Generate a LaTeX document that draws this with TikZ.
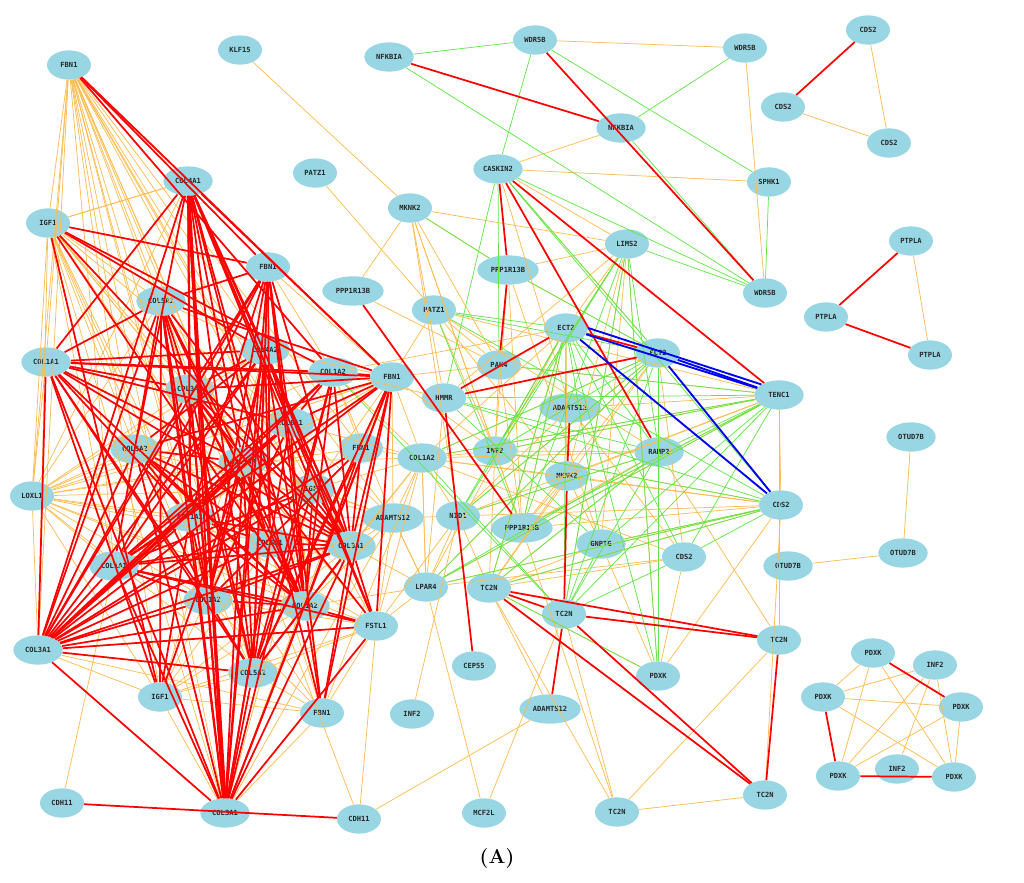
\documentclass[tikz,border=0pt]{standalone}
\usepackage{fontspec}
\newfontfamily\genefam{DejaVu Sans Mono}
\usetikzlibrary{shapes.geometric}
\definecolor{nodeblue}{RGB}{152,214,228}
\definecolor{eorange}{RGB}{255,188,80}
\definecolor{egreen}{RGB}{95,232,70}
\definecolor{ered}{RGB}{255,0,0}
\definecolor{eblue}{RGB}{0,0,240}
\pgfdeclarelayer{edges}
\pgfsetlayers{main,edges}
\tikzset{
  gene/.style={ellipse, fill=nodeblue, draw=none, minimum width=33pt, minimum height=22pt, inner sep=0pt,
    font=\genefam\bfseries\fontsize{5.3}{6}\selectfont, text=black!85},
  genem/.style={gene, minimum width=37pt},
  genew/.style={gene, minimum width=46pt},
  re/.style={draw=ered, line width=1.3pt},
  rb/.style={draw=ered, line width=2.2pt},
  oe/.style={draw=eorange, line width=0.55pt},
  ge/.style={draw=egreen, line width=0.55pt},
  be/.style={draw=eblue, line width=1.4pt},
}
\begin{document}
\begin{tikzpicture}[x=0.75pt,y=-0.75pt]
\useasboundingbox (0,0) rectangle (1024,882);
% ---------- left cluster ----------
\node[gene]  (fbnA)    at (69,65)   {FBN1};
\node[gene]  (klf)     at (240,50)  {KLF15};
\node[genem] (col4a1)  at (188,181) {COL4A1};
\node[gene]  (patzA)   at (315,173) {PATZ1};
\node[gene]  (igfA)    at (48,223)  {IGF1};
\node[gene]  (fbnB)    at (268,267) {FBN1};
\node[genem] (col5a1A) at (161,301) {COL5A1};
\node[genew] (pppA)    at (353,291) {PPP1R13B};
\node[genem] (col1a1A) at (46,362)  {COL1A1};
\node[genem] (col4a2)  at (265,350) {COL4A2};
\node[genem] (col1a2A) at (333,372) {COL1A2};
\node[gene]  (fbnC)    at (392,377) {FBN1};
\node[genem] (col3a1A) at (190,389) {COL3A1};
\node[genem] (col6a1)  at (290,423) {COL6A1};
\node[genem] (col5a2)  at (135,449) {COL5A2};
\node[genem] (col5a3)  at (243,462) {COL5A3};
\node[gene]  (fbnD)    at (361,448) {FBN1};
\node[gene]  (igfB)    at (313,489) {IGF1};
\node[gene]  (loxl)    at (32,496)  {LOXL1};
\node[genem] (col1a1B) at (190,517) {COL1A1};
\node[genew] (adamA)   at (393,518) {ADAMTS12};
\node[genem] (col5a1B) at (270,543) {COL5A1};
\node[genem] (col3a1B) at (351,546) {COL3A1};
\node[genem] (col1a2B) at (114,566) {COL1A1};
\node[genem] (col1a2C) at (208,600) {COL1A2};
\node[genem] (col1a2D) at (305,606) {COL1A2};
\node[gene]  (fstl)    at (376,626) {FSTL1};
\node[genem] (col3a1C) at (38,650)  {COL3A1};
\node[genem] (col5a1C) at (253,673) {COL5A1};
\node[gene]  (igfC)    at (160,697) {IGF1};
\node[gene]  (fbnE)    at (322,713) {FBN1};
\node[genem] (col3a1D) at (225,813) {COL3A1};
\node[gene]  (cdhA)    at (62,803)  {CDH11};
\node[gene]  (cdhB)    at (359,819) {CDH11};
\node[gene]  (infA)    at (412,714) {INF2};
% ---------- middle ----------
\node[genem] (nfkA)    at (389,57)  {NFKBIA};
\node[gene]  (wdrA)    at (535,40)  {WDR5B};
\node[gene]  (wdrB)    at (745,48)  {WDR5B};
\node[genem] (nfkB)    at (621,128) {NFKBIA};
\node[genem] (caskin)  at (498,169) {CASKIN2};
\node[gene]  (sphk)    at (769,182) {SPHK1};
\node[gene]  (mknkA)   at (410,208) {MKNK2};
\node[gene]  (lims)    at (627,244) {LIMS2};
\node[genew] (pppB)    at (508,270) {PPP1R13B};
\node[gene]  (wdrC)    at (765,293) {WDR5B};
\node[gene]  (patzB)   at (434,310) {PATZ1};
\node[gene]  (ectA)    at (566,328) {ECT2};
\node[gene]  (ectB)    at (658,353) {ECT2};
\node[gene]  (pak)     at (499,365) {PAK4};
\node[gene]  (hmmr)    at (444,398) {HMMR};
\node[genew] (adamB)   at (570,408) {ADAMTS12};
\node[genem] (tenc)    at (779,395) {TENC1};
\node[gene]  (infB)    at (495,451) {INF2};
\node[gene]  (mknkB)   at (567,476) {MKNK2};
\node[genem] (ramp)    at (659,452) {RAMP2};
\node[genem] (col1a2E) at (422,458) {COL1A2};
\node[gene]  (cdsA)    at (781,505) {CDS2};
\node[gene]  (nid)     at (458,516) {NID1};
\node[genew] (pppC)    at (522,528) {PPP1R13B};
\node[genem] (gnptg)   at (601,544) {GNPTG};
\node[gene]  (cdsB)    at (684,557) {CDS2};
\node[gene]  (lpar)    at (426,587) {LPAR4};
\node[gene]  (tcA)     at (489,588) {TC2N};
\node[gene]  (tcB)     at (564,614) {TC2N};
\node[gene]  (tcC)     at (779,640) {TC2N};
\node[gene]  (cep)     at (474,666) {CEP55};
\node[gene]  (pdxA)    at (658,676) {PDXK};
\node[genew] (adamC)   at (550,709) {ADAMTS12};
\node[gene]  (mcf)     at (484,813) {MCF2L};
\node[gene]  (tcD)     at (617,812) {TC2N};
\node[gene]  (tcE)     at (765,795) {TC2N};
\node[genem] (otA)     at (911,437) {OTUD7B};
\node[genem] (otB)     at (903,553) {OTUD7B};
\node[genem] (otC)     at (788,566) {OTUD7B};
% ---------- right clusters ----------
\node[gene]  (cdsC)    at (868,30)  {CDS2};
\node[gene]  (cdsD)    at (783,107) {CDS2};
\node[gene]  (cdsE)    at (889,143) {CDS2};
\node[gene]  (ptA)     at (911,241) {PTPLA};
\node[gene]  (ptB)     at (826,317) {PTPLA};
\node[gene]  (ptC)     at (930,355) {PTPLA};
\node[gene]  (pdB)     at (873,653) {PDXK};
\node[gene]  (infD)    at (935,665) {INF2};
\node[gene]  (pdC)     at (823,697) {PDXK};
\node[gene]  (pdD)     at (961,707) {PDXK};
\node[gene]  (pdE)     at (838,776) {PDXK};
\node[gene]  (infE)    at (897,769) {INF2};
\node[gene]  (pdF)     at (954,777) {PDXK};
\node[font=\bfseries\fontsize{15}{18}\selectfont] (cap) at (497,858) {(A)};

\begin{pgfonlayer}{edges}
% orange, left cluster
\foreach \b in {igfA,col5a1A,col1a1A,col3a1A,col5a2,col5a3,col1a1B,col1a2B,col1a2C,col5a1C,igfC,col3a1D,loxl,col3a1C,col1a2D,col5a1B,col6a1,col4a2,col3a1B,fstl,fbnD,igfB,col4a1,col1a2A}
  {\draw[oe] (fbnA) -- (\b);}
\foreach \b in {col4a1,col5a1A,col3a1A,col5a2,col5a3,col1a1B,col1a2B,col1a2C,col5a1C,igfC,loxl,col3a1C,col1a2D,col5a1B,col6a1,col4a2,col3a1B,fstl,col3a1D,fbnB}
  {\draw[oe] (igfA) -- (\b);}
\foreach \b in {col1a1A,col5a1A,col3a1A,col5a2,col5a3,col1a1B,col1a2B,col1a2C,col5a1B,col3a1B,col4a2,col6a1,igfB,fstl,col1a2D,col3a1C,col5a1C,fbnC,col1a2A,igfC,fbnD,col4a1}
  {\draw[oe] (loxl) -- (\b);}
\foreach \b in {igfC,col5a1C,fbnE,col1a2D,fstl,igfB,fbnD,col1a2C}
  {\draw[oe] (col3a1C) -- (\b);}
\foreach \b in {fbnE,igfB,fstl,fbnD,adamA,col5a2,col1a2B,col1a2D,igfC}
  {\draw[oe] (col3a1D) -- (\b);}
\foreach \b in {col5a3,col6a1,col1a2D,col5a1B,col3a1B,igfB,fbnC,col1a2A,col1a2E,lpar,fstl,col1a1B,col4a2,col1a2C,col5a2}
  {\draw[oe] (adamA) -- (\b);}
\foreach \b in {col3a1B,fstl,igfB,fbnD,lpar,col1a2D,fbnC,col1a2A,fbnE,col5a3,col6a1}
  {\draw[oe] (col1a2E) -- (\b);}
\foreach \b in {lpar,col5a1C,igfC,fbnE,cdhB,col1a2C,col5a3,col1a1B}
  {\draw[oe] (fstl) -- (\b);}
\foreach \b in {col5a1C,igfC,col1a2C,col1a1B,col5a3,col6a1}
  {\draw[oe] (fbnE) -- (\b);}
\foreach \b in {col5a1C,col1a2D,col5a1B,col3a1B,col6a1,col4a2}
  {\draw[oe] (igfC) -- (\b);}
\foreach \b in {col4a1,col5a1A,col1a1A,col3a1A,col5a2,col5a3,fbnD,igfB,col1a1B}
  {\draw[oe] (fbnC) -- (\b);}
\foreach \a/\b in {cdhA/col1a2B,cdhB/col5a1A,klf/mknkA,patzA/patzB,fbnC/patzB,fbnC/pak,col1a2A/hmmr,
  fbnC/infB,col1a2A/ectA,fbnB/col1a2A,col4a1/igfA,col4a2/fbnC,fbnB/fbnC,col1a2D/lpar,fstl/nid,col3a1B/lpar,infA/nid,
  adamC/cdhB,lpar/mcf,mcf/tcB,fbnD/col1a2A,col5a1A/col4a2}
  {\draw[oe] (\a) -- (\b);}
% orange, middle
\foreach \a/\b in {wdrA/wdrB,wdrB/wdrC,caskin/nfkB,caskin/sphk,caskin/lims,caskin/pppB,caskin/ectB,caskin/adamB,
  mknkA/pppA,mknkA/pppB,mknkA/lims,mknkA/pak,mknkA/infB,mknkA/nid,mknkA/pppC,mknkA/hmmr,
  pppA/pak,lims/pppB,lims/hmmr,lims/ectA,lims/infB,lims/mknkB,lims/gnptg,lims/tcB,lims/pdxA,
  pppB/pppC,pppB/infB,pppB/ectB,pppB/gnptg,patzB/pak,patzB/ramp,patzB/tenc,patzB/mknkB,patzB/infB,
  ectA/pppC,ectA/infB,ectA/lpar,ectA/tcA,ectA/mknkB,ectA/col1a2E,
  ectB/col1a2E,ectB/nid,ectB/lpar,ectB/tcA,ectB/cdsB,ectB/pppC,
  tenc/col1a2E,tenc/nid,tenc/pppC,tenc/cdsA,tenc/infB,tenc/pak,tenc/tcC,tenc/mknkB,tenc/adamB,tenc/lpar,
  ramp/col1a2E,ramp/pppC,ramp/tcA,ramp/pdxA,ramp/tcC,ramp/nid,ramp/infB,
  tcA/tcD,tcB/tcD,tcC/tcD,tcD/tcE,
  cdsA/col1a2E,cdsA/nid,cdsA/pppC,cdsA/lpar,cdsA/tcA,cdsA/infB,cdsA/gnptg,cdsA/mknkB,cdsA/pdxA,cdsA/tcE,
  nid/col1a2E,nid/lpar,nid/adamA,nid/tcA,lpar/col1a2E,lpar/adamA,infB/col1a2E,infB/tcA,infB/pppC,
  mknkB/col1a2E,mknkB/pppC,mknkB/gnptg,mknkB/tcA,gnptg/pdxA,gnptg/tcA,pdxA/tcA,pdxA/cdsB,
  cdsB/col1a2E,cdsB/tcA,cdsB/lpar,pak/pppC,pak/infB,hmmr/lpar,adamB/nid,adamB/cdsB,tcA/adamC,pppC/tcD}
  {\draw[oe] (\a) -- (\b);}
% orange, right
\foreach \a/\b in {cdsC/cdsE,cdsD/cdsE,ptA/ptC,otA/otB,otB/otC,
  pdB/pdC,pdB/pdE,pdB/pdF,infD/pdC,infD/pdE,infD/pdF,infD/infE,pdC/pdD,pdC/pdF,pdD/pdE,pdD/pdF}
  {\draw[oe] (\a) -- (\b);}
% green
\foreach \a/\b in {nfkA/wdrA,nfkA/wdrC,wdrA/caskin,wdrA/sphk,wdrB/nfkB,sphk/wdrC,nfkB/wdrC,
  caskin/wdrC,caskin/pak,caskin/ectB,caskin/hmmr,caskin/cdsA,mknkA/pppB,pppB/ectB,
  lims/wdrC,lims/pppC,lims/infB,lims/pdxA,lims/tcB,lims/ramp,lims/nid,
  patzB/ectA,patzB/ectB,patzB/pppC,hmmr/tenc,hmmr/ramp,hmmr/cdsA,hmmr/gnptg,
  ectA/infB,ectA/nid,ectA/pppC,ectA/tcB,ectA/pdxA,ectA/gnptg,ectA/ramp,ectA/cdsB,ectA/tcA,
  ectB/pdxA,ectB/tcB,ectB/lpar,ectB/nid,ectB/infB,ectB/col1a2E,
  tenc/pak,tenc/infB,tenc/tcB,tenc/gnptg,tenc/pppC,tenc/cdsB,tenc/col1a2E,tenc/lpar,tenc/ramp,
  cdsA/patzB,cdsA/tcA,cdsA/lpar,cdsA/gnptg,cdsA/cdsB,cdsA/infB,
  ramp/lpar,ramp/tcB,ramp/tcA,ramp/nid,tcA/pdxA,col1a2E/tcB,col1a2A/tcB,gnptg/tcB,cdsB/tcB}
  {\draw[ge] (\a) -- (\b);}
% red, left cluster
\foreach \a/\b in {fbnA/fbnB,fbnA/fbnC,fbnA/col1a2A,
  igfA/fbnB,igfA/col4a2,igfA/col1a2A,igfA/col3a1B,igfA/igfC,igfA/col1a2D,
  col4a1/col1a1A,col4a1/col5a2,col4a1/col3a1A,col4a1/col6a1,col4a1/col5a3,col4a1/col1a1B,col4a1/col1a2C,col4a1/col5a1C,
  col4a1/col1a2D,col4a1/fstl,col4a1/col3a1B,col4a1/igfB,col4a1/fbnE,col4a1/col3a1C,col4a1/col4a2,col4a1/fbnC,
  col5a1A/col1a1A,col5a1A/col3a1A,col5a1A/col5a3,col5a1A/col1a1B,col5a1A/col1a2C,col5a1A/col5a1C,col5a1A/col3a1D,
  col5a1A/col1a2D,col5a1A/col3a1B,col5a1A/fbnC,col5a1A/fbnB,col5a1A/col1a2B,col5a1A/col3a1C,col5a1A/igfC,
  col1a1A/col4a2,col1a1A/col1a2A,col1a1A/col3a1A,col1a1A/col6a1,col1a1A/col5a3,col1a1A/col3a1B,col1a1A/col1a2D,
  col1a1A/col5a1C,col1a1A/igfC,col1a1A/col3a1C,col1a1A/col3a1D,col1a1A/col1a2C,col1a1A/col1a1B,col1a1A/fbnC,
  fbnB/col4a2,fbnB/col3a1A,fbnB/col1a1B,fbnB/col5a1B,fbnB/col3a1B,fbnB/col1a2D,fbnB/fbnE,fbnB/col3a1D,
  fbnB/col5a1C,fbnB/col1a2C,fbnB/col3a1C,fbnB/col1a2B,fbnB/col6a1,
  col4a2/col3a1A,col4a2/col6a1,col4a2/col5a3,col4a2/col5a1B,col4a2/col3a1B,col4a2/col1a2D,col4a2/col3a1D,
  col4a2/col5a1C,col4a2/col1a2B,col4a2/col3a1C,col4a2/fstl,col4a2/col1a2C,col4a2/col5a2,
  col1a2A/col6a1,col1a2A/col3a1B,col1a2A/col3a1C,col1a2A/col1a2B,col1a2A/col1a2D,col1a2A/fbnC,col1a2A/col3a1D,col1a2A/col5a1C,
  fbnC/col3a1A,fbnC/fstl,fbnC/col3a1B,fbnC/col1a2D,fbnC/col5a1C,fbnC/col1a2B,fbnC/col3a1C,fbnC/fbnE,fbnC/col3a1D,
  fbnC/col5a2,fbnC/col6a1,
  col3a1A/col5a3,col3a1A/col1a1B,col3a1A/col5a1B,col3a1A/col3a1B,col3a1A/col1a2C,col3a1A/col3a1D,col3a1A/col1a2D,
  col3a1A/fstl,col3a1A/col5a1C,col3a1A/col3a1C,
  col6a1/col5a3,col6a1/col1a1B,col6a1/col3a1B,col6a1/col1a2D,col6a1/col3a1D,col6a1/col1a2C,col6a1/col3a1C,col6a1/col1a2B,
  col5a2/col1a1B,col5a2/col5a1B,col5a2/col3a1B,col5a2/col1a2C,col5a2/col3a1D,col5a2/col1a2D,col5a2/col3a1C,col5a2/col5a3,
  col5a3/col1a1B,col5a3/col5a1B,col5a3/col3a1B,col5a3/col1a2C,col5a3/col3a1D,col5a3/col1a2D,col5a3/col5a1C,
  col5a3/col3a1C,col5a3/igfC,
  fbnD/col3a1B,fbnD/col1a2D,fbnD/col5a1C,fbnD/col3a1C,fbnD/col1a2C,
  igfB/col3a1B,igfB/col1a2D,igfB/col3a1C,igfB/col5a1C,igfB/col1a2B,
  col1a1B/col5a1B,col1a1B/col3a1B,col1a1B/col1a2C,col1a1B/col3a1D,col1a1B/col1a2D,col1a1B/col3a1C,col1a1B/col1a2B,col1a1B/igfC,
  col5a1B/col3a1B,col5a1B/col1a2D,col5a1B/col3a1D,col5a1B/col3a1C,col5a1B/col1a2B,col5a1B/col5a1C,
  col3a1B/col1a2D,col3a1B/col3a1D,col3a1B/col1a2B,col3a1B/col3a1C,col3a1B/col5a1C,col3a1B/fstl,col3a1B/fbnE,col3a1B/col1a2C,
  col1a2B/col1a2C,col1a2B/col3a1D,col1a2B/col1a2D,col1a2B/col3a1C,col1a2B/fstl,
  col1a2C/col1a2D,col1a2C/col3a1D,col1a2C/col3a1C,col1a2C/col5a1C,
  col1a2D/fstl,col1a2D/col3a1D,col1a2D/col3a1C,col1a2D/fbnE,col1a2D/col5a1C,
  fstl/col3a1C,fstl/col3a1D,col3a1C/col5a1C,col3a1C/col3a1D,col5a1C/col3a1D,cdhA/cdhB}
  {\draw[re] (\a) -- (\b);}
\draw[rb] (col4a1) -- (col3a1D);
\draw[rb] (col4a1.south) -- (col3a1D.north);
% red, middle and right
\foreach \a/\b in {nfkA/nfkB,wdrA/wdrC,caskin/pppB,caskin/ramp,caskin/tenc,pppB/pak,pppA/pppC,
  ectA/ectB,ectA/hmmr,ectB/hmmr,hmmr/cep,adamB/mknkB,mknkB/tcB,
  tcA/tcB,tcA/tcC,tcB/tcC,tcA/tcE,tcB/tcE,tcC/tcE,tcB/adamC,
  cdsC/cdsD,ptA/ptB,ptB/ptC,pdB/pdD,pdC/pdE,pdE/pdF}
  {\draw[re] (\a) -- (\b);}
% blue
\foreach \a/\b in {ectA/tenc,ectB/tenc,ectA/cdsA,ectB/cdsA}
  {\draw[be] (\a) -- (\b);}
\draw[be] (ectA.east) -- (tenc.north west);
\end{pgfonlayer}
\end{tikzpicture}
\end{document}
